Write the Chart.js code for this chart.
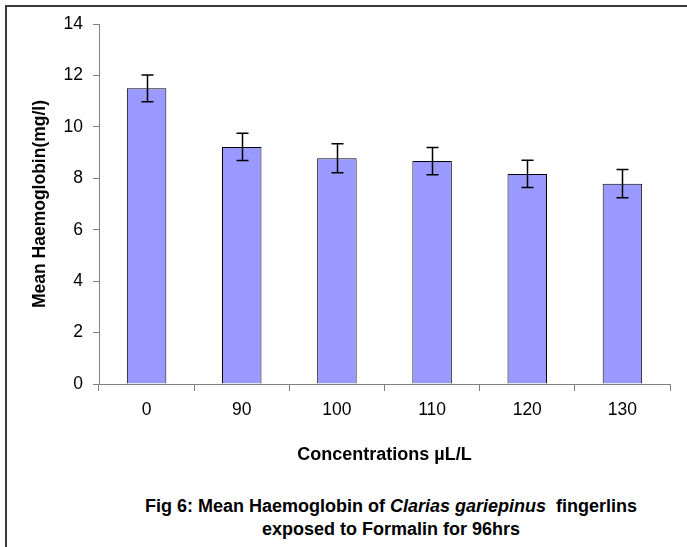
<!DOCTYPE html>
<html>
<head>
<meta charset="utf-8">
<script src="https://cdn.jsdelivr.net/npm/chart.js@4/dist/chart.umd.min.js"></script>
<style>
  html, body { margin: 0; padding: 0; background: #fff; }
  body { width: 687px; height: 547px; position: relative; overflow: hidden; font-family: "Liberation Sans", Arial, sans-serif; }
  #frame { position: absolute; left: 5px; top: 5px; width: 690px; height: 560px; border-top: 2px solid #3a3a3a; border-left: 2px solid #3a3a3a; box-sizing: border-box; }
  #wrap { position: absolute; left: 0; top: 0; width: 687px; height: 470px; }
  #caption { position: absolute; left: 121px; top: 495px; width: 540px; text-align: center; font-weight: bold; font-size: 18px; line-height: 23px; color: #000; }
</style>
</head>
<body>
<div id="frame"></div>
<div id="wrap"><canvas id="c" width="687" height="470"></canvas></div>
<div id="caption">Fig 6: Mean Haemoglobin of <i>Clarias gariepinus</i>&nbsp; fingerlins<br>exposed to Formalin for 96hrs</div>
<script>
const categories = ['0', '90', '100', '110', '120', '130'];
const meanHaemoglobin = [11.5, 9.22, 8.78, 8.67, 8.17, 7.79];
const errorValues = [0.52, 0.53, 0.56, 0.53, 0.53, 0.55];
const yMin = 0;
const yMax = 14;
const yStep = 2;
const xTitle = 'Concentrations µL/L';
const yTitle = 'Mean Haemoglobin(mg/l)';

const FONT = '"Liberation Sans", Arial, sans-serif';

const errorBarPlugin = {
  id: 'errorBars',
  afterDatasetsDraw(chart) {
    const ctx = chart.ctx;
    const meta = chart.getDatasetMeta(0);
    const yScale = chart.scales.y;
    ctx.save();
    ctx.strokeStyle = '#000';
    ctx.lineWidth = 1.5;
    meta.data.forEach((bar, i) => {
      const v = meanHaemoglobin[i], e = errorValues[i];
      const x = Math.round(bar.x) + 0.5;
      const yt = yScale.getPixelForValue(v + e);
      const yb = yScale.getPixelForValue(v - e);
      const cap = 6;
      ctx.beginPath();
      ctx.moveTo(x, yt); ctx.lineTo(x, yb);
      ctx.moveTo(x - cap, yt); ctx.lineTo(x + cap, yt);
      ctx.moveTo(x - cap, yb); ctx.lineTo(x + cap, yb);
      ctx.stroke();
    });
    ctx.restore();
  }
};

new Chart(document.getElementById('c'), {
  type: 'bar',
  data: {
    labels: categories,
    datasets: [{
      data: meanHaemoglobin,
      backgroundColor: '#9999FF',
      borderColor: '#000000',
      borderWidth: 1,
      categoryPercentage: 1,
      barPercentage: 0.415
    }]
  },
  options: {
    responsive: false,
    animation: false,
    layout: { padding: { left: 20, top: 24, right: 17, bottom: 0 } },
    plugins: { legend: { display: false }, tooltip: { enabled: false } },
    scales: {
      x: {
        offset: true,
        grid: { offset: true, drawOnChartArea: false, drawTicks: true, tickLength: 7, color: '#808080', lineWidth: 1 },
        border: { display: true, color: '#808080', width: 1 },
        ticks: { color: '#000', font: { family: FONT, size: 17.5 }, padding: 9, maxRotation: 0 },
        title: { display: true, text: xTitle, color: '#000', font: { family: FONT, size: 18, weight: 'bold' }, padding: { top: 4, bottom: 4 } },
        afterFit(scale) { scale.height = 86; }
      },
      y: {
        min: yMin, max: yMax,
        grid: { drawOnChartArea: false, drawTicks: true, tickLength: 6, color: '#808080', lineWidth: 1 },
        border: { display: true, color: '#808080', width: 1 },
        ticks: { stepSize: yStep, color: '#000', font: { family: FONT, size: 17.5 }, padding: 10 },
        title: { display: true, text: yTitle, color: '#000', font: { family: FONT, size: 17.5, weight: 'bold' }, padding: { top: 10, bottom: 4 } },
        afterFit(scale) { scale.width = 79; }
      }
    }
  },
  plugins: [errorBarPlugin]
});
</script>
</body>
</html>
